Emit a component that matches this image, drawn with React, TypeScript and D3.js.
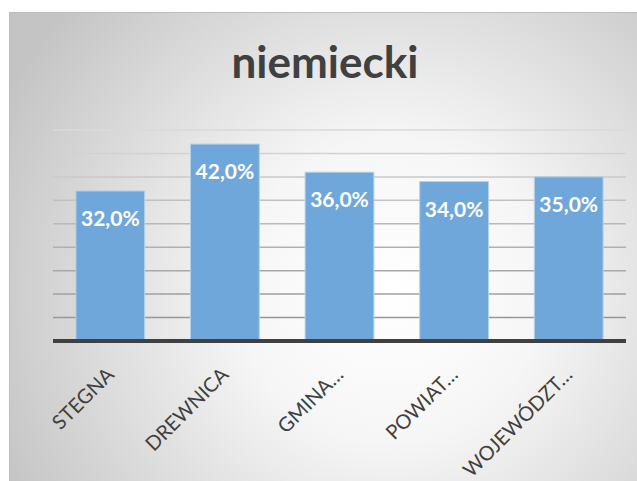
import { useEffect, useRef } from "react";
import * as d3 from "d3";

const categories = ["STEGNA", "DREWNICA", "GMINA…", "POWIAT…", "WOJEWÓDZT…"];
const values = [32, 42, 36, 34, 35];
const gridTicks = [0, 5, 10, 15, 20, 25, 30, 35, 40, 45];

export default function App() {
  const svgRef = useRef<SVGSVGElement>(null);

  useEffect(() => {
    document.body.style.margin = "0";
    if (!svgRef.current) return;

    const svg = d3.select(svgRef.current);
    const width = 637;
    const height = 481;
    const margin = { top: 130, right: 11, bottom: 140, left: 53 };

    svg.selectAll("*").remove();
    svg.attr("width", width).attr("height", height);

    const defs = svg.append("defs");

    // Chart area background
    const bg = defs
      .append("radialGradient")
      .attr("id", "bg")
      .attr("gradientUnits", "userSpaceOnUse")
      .attr("cx", 390)
      .attr("cy", 290)
      .attr("r", 430);
    bg.append("stop").attr("offset", "0%").attr("stop-color", "#ffffff");
    bg.append("stop").attr("offset", "35%").attr("stop-color", "#f6f6f6");
    bg.append("stop").attr("offset", "100%").attr("stop-color", "#c4c4c4");

    // Gridlines fade toward the top
    const gridGrad = defs
      .append("linearGradient")
      .attr("id", "gridGrad")
      .attr("gradientUnits", "userSpaceOnUse")
      .attr("x1", 0)
      .attr("y1", margin.top)
      .attr("x2", 0)
      .attr("y2", height - margin.bottom);
    gridGrad.append("stop").attr("offset", "0%").attr("stop-color", "#dadada");
    gridGrad.append("stop").attr("offset", "100%").attr("stop-color", "#8f8f8f");

    svg
      .append("rect")
      .attr("x", 9.5)
      .attr("y", 12.5)
      .attr("width", 640)
      .attr("height", 480)
      .attr("fill", "url(#bg)")
      .attr("stroke", "#bdbdbd")
      .attr("stroke-width", 1);

    const xScale = d3
      .scaleBand()
      .domain(categories)
      .range([margin.left, width - margin.right])
      .paddingInner(0.4)
      .paddingOuter(0.2);

    const yScale = d3
      .scaleLinear()
      .domain([0, 45])
      .range([height - margin.bottom, margin.top]);

    // Grid lines
    svg
      .append("g")
      .selectAll("line")
      .data(gridTicks.slice(1))
      .enter()
      .append("line")
      .attr("x1", margin.left)
      .attr("x2", width - margin.right)
      .attr("y1", (d) => yScale(d))
      .attr("y2", (d) => yScale(d))
      .attr("stroke", "url(#gridGrad)")
      .attr("stroke-width", 1.5);

    // Bars
    svg
      .append("g")
      .selectAll("rect")
      .data(values)
      .enter()
      .append("rect")
      .attr("x", (_, i) => xScale(categories[i])!)
      .attr("y", (d) => yScale(d))
      .attr("width", xScale.bandwidth())
      .attr("height", (d) => yScale(0) - yScale(d))
      .attr("fill", "#6fa7da")
      .attr("stroke", "#b4d1ec")
      .attr("stroke-width", 1);

    // Value labels
    svg
      .append("g")
      .selectAll("text")
      .data(values)
      .enter()
      .append("text")
      .attr("x", (_, i) => xScale(categories[i])! + xScale.bandwidth() / 2)
      .attr("y", (d) => yScale(d) + 35)
      .attr("text-anchor", "middle")
      .attr("fill", "#ffffff")
      .attr("font-family", "Lato, sans-serif")
      .attr("font-size", "21px")
      .attr("font-weight", "bold")
      .text((d) => `${d.toFixed(1).replace(".", ",")}%`);

    // Axis line
    svg
      .append("line")
      .attr("x1", margin.left)
      .attr("x2", width - margin.right)
      .attr("y1", yScale(0))
      .attr("y2", yScale(0))
      .attr("stroke", "#404040")
      .attr("stroke-width", 4);

    // Category labels
    svg
      .append("g")
      .selectAll("text")
      .data(categories)
      .enter()
      .append("text")
      .attr(
        "transform",
        (d) =>
          `translate(${xScale(d)! + xScale.bandwidth() / 2 + 5},${yScale(0) + 35}) rotate(-45)`
      )
      .attr("text-anchor", "end")
      .attr("fill", "#404040")
      .attr("font-family", "Lato, sans-serif")
      .attr("font-size", "20px")
      .text((d) => d);

    // Title
    svg
      .append("text")
      .attr("x", 325)
      .attr("y", 78)
      .attr("text-anchor", "middle")
      .attr("fill", "#404040")
      .attr("font-family", "Lato, sans-serif")
      .attr("font-size", "44px")
      .attr("font-weight", "bold")
      .text("niemiecki");
  }, []);

  return (
    <div style={{ position: "absolute", left: 0, top: 0 }}>
      <svg ref={svgRef}></svg>
    </div>
  );
}
